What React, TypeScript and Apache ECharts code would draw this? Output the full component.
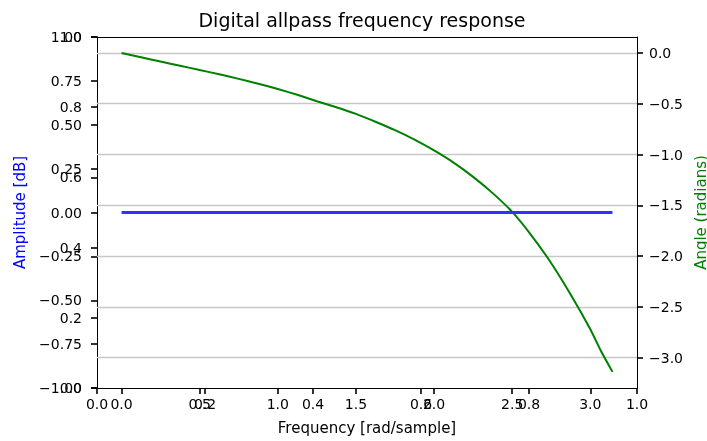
import React, { useEffect, useRef } from 'react';
import * as echarts from 'echarts';

// ---- data ----
const freqRad = [0, 0.125, 0.25, 0.375, 0.5, 0.625, 0.75, 0.875, 1.0, 1.125, 1.25, 1.375, 1.5, 1.625, 1.75, 1.875, 2.0, 2.125, 2.25, 2.375, 2.5, 2.625, 2.75, 2.875, 3.0, 3.07, 3.1416];
const angleRad = [0, -0.042, -0.085, -0.126, -0.168, -0.21, -0.255, -0.303, -0.355, -0.412, -0.475, -0.535, -0.6, -0.677, -0.76, -0.853, -0.96, -1.08, -1.22, -1.38, -1.565, -1.8, -2.07, -2.38, -2.72, -2.94, -3.14];
const amplitudeDb = [0, 0, 0, 0, 0, 0, 0, 0, 0, 0, 0, 0, 0, 0, 0, 0, 0, 0, 0, 0, 0, 0, 0, 0, 0, 0, 0];

const freqTicks = [0, 0.5, 1.0, 1.5, 2.0, 2.5, 3.0];
const angleTicks = [0, -0.5, -1.0, -1.5, -2.0, -2.5, -3.0];
const freqRange = [-0.1571, 3.2987];
const angleRange = [-3.2987, 0.1571];
const amplitudeRange = [-1, 1];

const titleText = 'Digital allpass frequency response';
const xName = 'Frequency [rad/sample]';
const yLeftName = 'Amplitude [dB]';
const yRightName = 'Angle (radians)';

const FONT = 'DejaVu Sans';
const minus = (s: string) => s.replace('-', '\u2212');

export default function App() {
  const ref = useRef<HTMLDivElement>(null);
  useEffect(() => {
    const chart = echarts.init(ref.current!, null, { renderer: 'svg' });
    const mkTick = (extra: any = {}) => ({ show: true, length: 6, lineStyle: { color: '#000000', width: 1.6 }, ...extra });
    const lab = { color: '#000', fontFamily: FONT, fontSize: 14 };
    const mkLine = () => ({ show: true, onZero: false, lineStyle: { color: '#000000', width: 1 } });
    chart.setOption({
      animation: false,
      grid: { left: 97, top: 37, width: 540, height: 351, outerBoundsMode: 'none' },
      graphic: [
        {
          type: 'text', x: 362, y: 20,
          style: {
            text: titleText, fontFamily: FONT, fontSize: 19, fill: '#000',
            textAlign: 'center', textVerticalAlign: 'middle', verticalAlign: 'middle',
          },
        },
      ],
      xAxis: [
        {
          type: 'value', min: freqRange[0], max: freqRange[1], position: 'bottom', offset: 0,
          axisLine: mkLine(), splitLine: { show: false },
          axisTick: mkTick({ customValues: freqTicks }),
          axisLabel: { ...lab, margin: 9, customValues: freqTicks, formatter: (v: number) => minus(v.toFixed(1)) },
          name: xName, nameLocation: 'middle', nameGap: 32,
          nameTextStyle: { color: '#000', fontFamily: FONT, fontSize: 15 },
        },
        {
          type: 'value', min: 0, max: 1, interval: 0.2, position: 'bottom', offset: 0.01,
          axisLine: mkLine(), splitLine: { show: false },
          axisTick: mkTick(),
          axisLabel: { ...lab, margin: 9, formatter: (v: number) => minus(v.toFixed(1)) },
        },
        {
          type: 'value', min: 0, max: 1, position: 'top',
          axisLine: mkLine(), splitLine: { show: false },
          axisTick: { show: false }, axisLabel: { show: false },
        },
      ],
      yAxis: [
        {
          type: 'value', min: amplitudeRange[0], max: amplitudeRange[1], interval: 0.25, position: 'left', offset: 0,
          axisLine: mkLine(), splitLine: { show: false },
          axisTick: mkTick(),
          axisLabel: { ...lab, margin: 15, formatter: (v: number) => minus(v.toFixed(2)) },
          name: yLeftName, nameLocation: 'middle', nameGap: 70, nameRotate: 90,
          nameTextStyle: { color: '#0000ff', fontFamily: FONT, fontSize: 15 },
        },
        {
          type: 'value', min: 0, max: 1, interval: 0.2, position: 'left', offset: 0.01,
          axisLine: mkLine(), splitLine: { show: false },
          axisTick: mkTick(),
          axisLabel: { ...lab, margin: 15, formatter: (v: number) => minus(v.toFixed(1)) },
        },
        {
          type: 'value', min: angleRange[0], max: angleRange[1], position: 'right',
          axisLine: mkLine(), splitLine: { show: false },
          axisTick: mkTick({ customValues: angleTicks }),
          axisLabel: { ...lab, margin: 12, customValues: angleTicks, formatter: (v: number) => minus(v.toFixed(1)) },
          name: yRightName, nameLocation: 'middle', nameGap: 49, nameRotate: 90,
          nameTextStyle: { color: '#008000', fontFamily: FONT, fontSize: 15 },
        },
      ],
      series: [
        {
          type: 'line', xAxisIndex: 0, yAxisIndex: 2, z: 3,
          data: freqRad.map((f, i) => [f, angleRad[i]]),
          showSymbol: false, symbol: 'none', smooth: 0.2,
          lineStyle: { color: '#008000', width: 2 },
          markLine: {
            silent: true, symbol: 'none', z: 1,
            label: { show: false },
            lineStyle: { color: '#c8c8c8', width: 1.4, type: 'solid' },
            data: angleTicks.map((v) => ({ yAxis: v })),
          },
        },
        {
          type: 'line', xAxisIndex: 0, yAxisIndex: 0, z: 4,
          data: freqRad.map((f, i) => [f, amplitudeDb[i]]),
          showSymbol: false, symbol: 'none',
          lineStyle: { color: '#3030ff', width: 3 },
        },
      ],
    });
    return () => chart.dispose();
  }, []);
  return <div ref={ref} style={{ position: 'fixed', left: 0, top: 0, width: 707, height: 441 }} />;
}
